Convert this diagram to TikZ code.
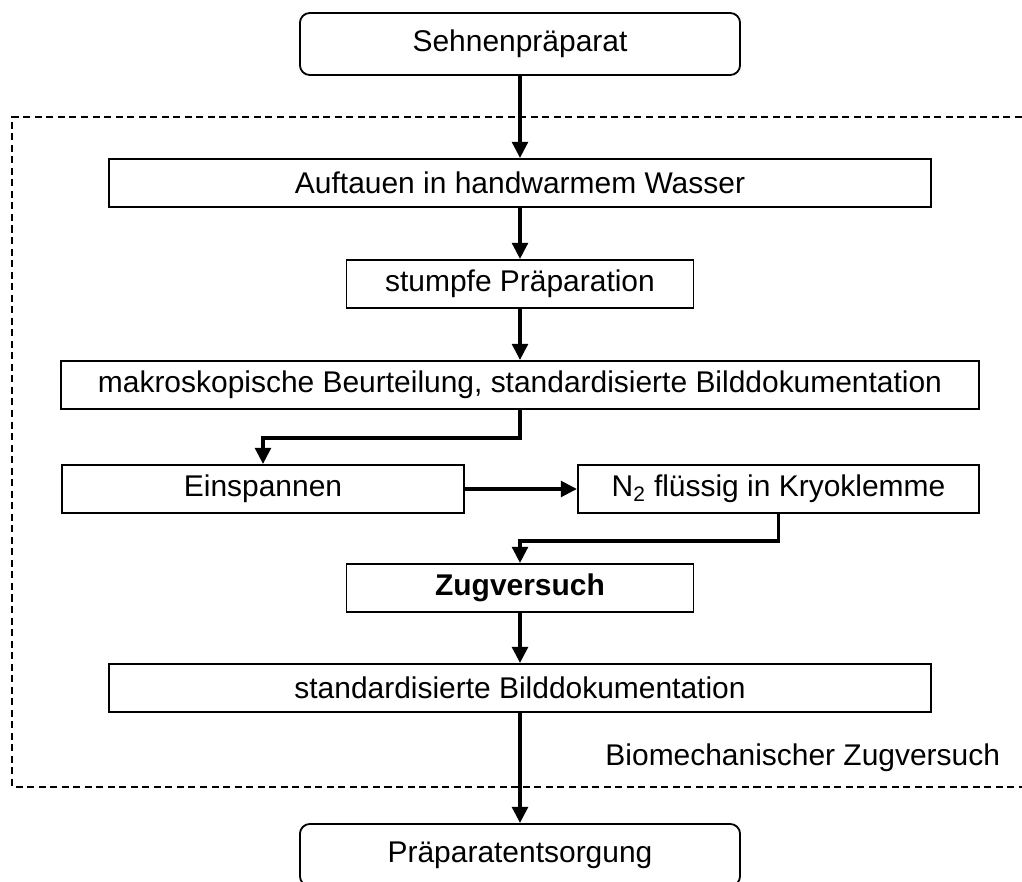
\documentclass[tikz,border=0pt]{standalone}
\usepackage{fontspec}
\setmainfont{Liberation Sans}
\usetikzlibrary{arrows.meta}

\begin{document}
\begin{tikzpicture}
		[x=0.025cm, y=-0.025cm,
		every node/.style={font=\fontsize{21.3}{25}\selectfont},
		box/.style={draw, line width=1.3pt, minimum height=1.2cm, inner sep=0pt},
		endbox/.style={box, rounded corners=7pt, minimum width=11cm, minimum height=1.55cm},
		arr/.style={line width=2.8pt, -{Triangle[length=11.5pt, width=11pt]}},
		frame/.style={line width=1pt, dash pattern=on 5pt off 3.2pt}]
		\useasboundingbox (0,0) rectangle (1022,882);
		\clip (0,0) rectangle (1022,882);
		% Rahmen Zugversuch
		\draw[frame] (1022,117) -- (12,117) -- (12,787) -- (1022,787);
		\node[endbox] (praep) at (520,44) {Sehnenpräparat};
		\node[box, minimum width=20.55cm] (auftauen) at (520,183) {Auftauen in handwarmem Wasser};
		\node[box, minimum width=8.675cm] (stumpf) at (520,284) {stumpfe Präparation};
		\node[box, minimum width=22.95cm] (makro) at (520,385) {makroskopische Beurteilung, standardisierte Bilddokumentation};
		\node[box, minimum width=10.05cm] (einsp) at (263,489) {Einspannen};
		\node[box, minimum width=10.025cm] (kryo) at (778.5,489) {N\textsubscript{2} flüssig in Kryoklemme};
		\node[box, minimum width=8.675cm] (zug) at (520,588) {\textbf{Zugversuch}};
		\node[box, minimum width=20.55cm] (bild) at (520,688) {standardisierte Bilddokumentation};
		\node[anchor=east] (titel) at (1005,758) {Biomechanischer Zugversuch};
		\node[endbox] (entsorg) at (520,855) {Präparatentsorgung};
		% Pfeile
		\draw[arr] (praep) -- (auftauen);
		\draw[arr] (auftauen) -- (stumpf);
		\draw[arr] (stumpf) -- (makro);
		\draw[arr] (makro.south) -- ++(0,28) -| (einsp.north);
		\draw[arr] (einsp) -- (kryo);
		\draw[arr] (kryo.south) -- ++(0,27) -| (zug.north);
		\draw[arr] (zug) -- (bild);
		\draw[arr] (bild) -- (entsorg);
	\end{tikzpicture}
\end{document}
